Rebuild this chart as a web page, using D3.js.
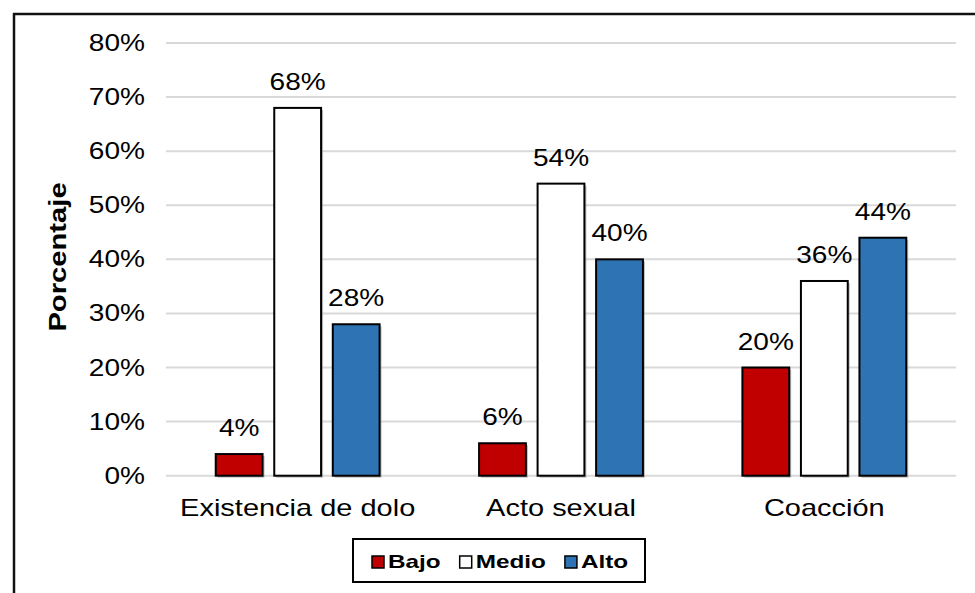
<!DOCTYPE html>
<html><head><meta charset="utf-8">
<script src="https://cdn.jsdelivr.net/npm/d3@7"></script>
<style>html,body{margin:0;padding:0;background:#fff;}svg{display:block;}</style>
</head><body>
<script>
const categories = ["Existencia de dolo", "Acto sexual", "Coacción"];
const series = ["Bajo", "Medio", "Alto"];
const bajo = [0.04, 0.06, 0.20];
const medio = [0.68, 0.54, 0.36];
const alto = [0.28, 0.40, 0.44];
const yTicks = [0, 0.1, 0.2, 0.3, 0.4, 0.5, 0.6, 0.7, 0.8];
const colors = ["#C00000", "#FFFFFF", "#2E74B5"];
const values = [bajo, medio, alto];

const W = 975, H = 593;
const svg = d3.select("body").append("svg").attr("width", W).attr("height", H);
const FONT = "'Liberation Sans', Arial, sans-serif";
const SX = 1.22;

function label(parent, x, yy, str, o = {}) {
  const g = parent.append("g").attr("transform", `translate(${x},${yy})${o.rotate ? " rotate(" + o.rotate + ")" : ""} scale(${o.sx || SX},1)`);
  return g.append("text").attr("text-anchor", o.anchor || "middle")
    .attr("font-family", FONT).attr("font-size", (o.size || 23) + "px")
    .attr("font-weight", o.bold ? "bold" : "normal").attr("fill", "#000")
    .attr("dy", o.dy || 0).text(str);
}

// frame
svg.append("line").attr("x1", 13).attr("x2", W).attr("y1", 14).attr("y2", 14).attr("stroke", "#111").attr("stroke-width", 2.5);
svg.append("line").attr("x1", 14).attr("x2", 14).attr("y1", 13).attr("y2", H).attr("stroke", "#111").attr("stroke-width", 2.5);

const plotL = 166, plotR = 956, plotT = 43, plotB = 475.7;
const y = d3.scaleLinear().domain([0, 0.8]).range([plotB, plotT]);
const x0 = d3.scaleBand().domain(categories).range([plotL, plotR]).padding(0);
const x1 = d3.scaleBand().domain(series).range([0, x0.bandwidth()]).paddingInner(0.2).paddingOuter(0.85);

// gridlines
svg.append("g").selectAll("line").data(yTicks).join("line")
  .attr("x1", plotL).attr("x2", plotR)
  .attr("y1", d => y(d)).attr("y2", d => y(d))
  .attr("stroke", "#d9d9d9").attr("stroke-width", 2);

// y tick labels
yTicks.forEach(t => label(svg, 145, y(t), d3.format(".0%")(t), { anchor: "end", dy: "0.35em" }));

// y axis title
label(svg, 66, 257, "Porcentaje", { rotate: -90, bold: true, size: 23, sx: 1.27 });

// bars
const gBars = svg.append("g");
categories.forEach((c, i) => {
  series.forEach((s, j) => {
    const v = values[j][i];
    const bx = x0(c) + x1(s), bw = x1.bandwidth();
    const by = y(v), bh = y(0) - y(v);
    gBars.append("rect").attr("x", bx + 2).attr("y", by + 2).attr("width", bw).attr("height", bh)
      .attr("fill", "#8a8a8a").attr("opacity", 0.55);
    gBars.append("rect").attr("x", bx).attr("y", by).attr("width", bw).attr("height", bh)
      .attr("fill", colors[j]).attr("stroke", "#000").attr("stroke-width", 2);
    label(svg, bx + bw / 2, by - 18, d3.format(".0%")(v));
  });
  label(svg, x0(c) + x0.bandwidth() / 2, 516, c, { sx: 1.26 });
});

// legend
svg.append("rect").attr("x", 353).attr("y", 539).attr("width", 292).attr("height", 43)
  .attr("fill", "#fff").attr("stroke", "#000").attr("stroke-width", 2);
let lx = 372;
series.forEach((s, j) => {
  svg.append("rect").attr("x", lx).attr("y", 556).attr("width", 12).attr("height", 12)
    .attr("fill", colors[j]).attr("stroke", "#000").attr("stroke-width", 1.5);
  const t = label(svg, lx + 16, 568, s, { anchor: "start", bold: true, size: 19, sx: 1.28 });
  lx = lx + 16 + t.node().getComputedTextLength() * 1.28 + 19;
});
</script>
</body></html>
